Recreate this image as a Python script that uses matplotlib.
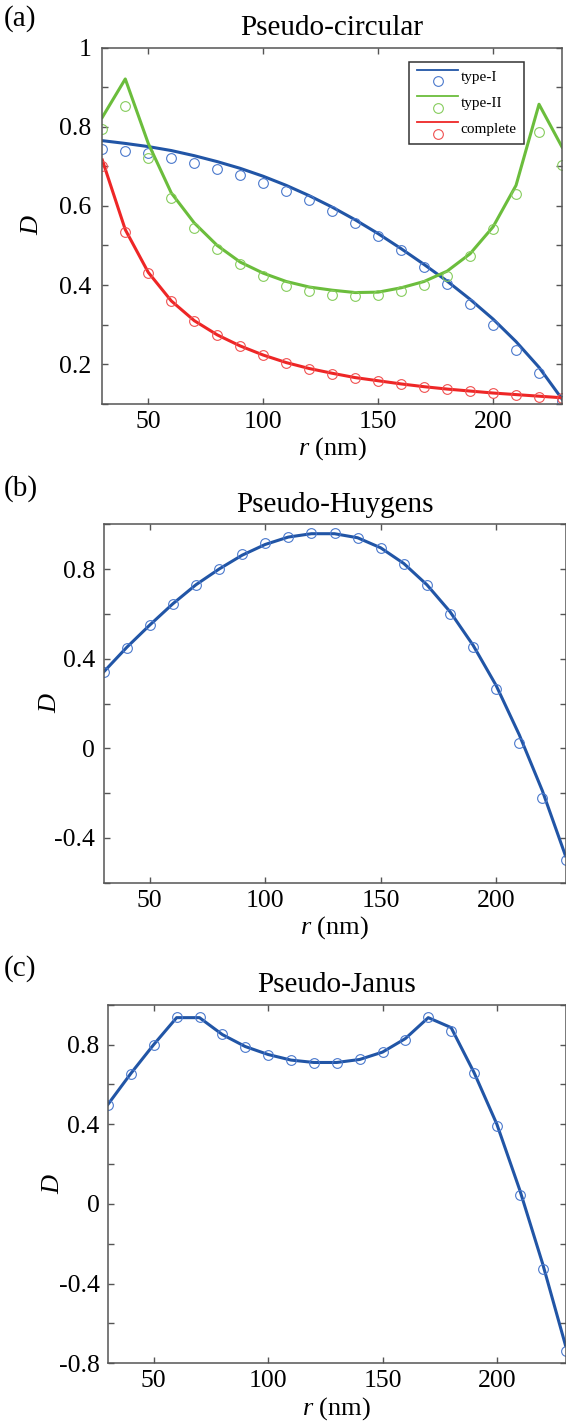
import matplotlib
matplotlib.use('Agg')
import matplotlib.pyplot as plt
from matplotlib.lines import Line2D
from matplotlib.legend_handler import HandlerBase

plt.rcParams['font.family'] = ['Liberation Serif', 'DejaVu Serif']
plt.rcParams['mathtext.fontset'] = 'custom'
plt.rcParams['mathtext.rm'] = 'Liberation Serif'
plt.rcParams['mathtext.it'] = 'Liberation Serif:italic'
plt.rcParams['axes.unicode_minus'] = False

r = [30, 40, 50, 60, 70, 80, 90, 100, 110, 120, 130, 140, 150, 160, 170, 180, 190, 200, 210, 220, 230]

# (a) pseudo-circular: lines = model, circles = simulation
circ_t1_line = [0.765, 0.758, 0.750, 0.740, 0.727, 0.712, 0.695, 0.675, 0.652, 0.626, 0.597,
                0.565, 0.530, 0.492, 0.452, 0.410, 0.364, 0.314, 0.257, 0.192, 0.112]
circ_t1_pts = [0.744, 0.738, 0.733, 0.721, 0.708, 0.694, 0.678, 0.658, 0.637, 0.614, 0.586,
               0.558, 0.523, 0.488, 0.446, 0.403, 0.352, 0.299, 0.237, 0.178, 0.108]
circ_t2_line = [0.824, 0.921, 0.758, 0.633, 0.557, 0.500, 0.458, 0.430, 0.409, 0.395, 0.387,
                0.381, 0.382, 0.393, 0.409, 0.435, 0.479, 0.547, 0.652, 0.857, 0.749]
circ_t2_pts = [0.794, 0.853, 0.720, 0.621, 0.545, 0.492, 0.453, 0.422, 0.397, 0.384, 0.376,
               0.372, 0.375, 0.384, 0.401, 0.424, 0.474, 0.542, 0.629, 0.787, 0.704]
circ_all_line = [0.716, 0.540, 0.432, 0.360, 0.310, 0.274, 0.246, 0.223, 0.204, 0.189, 0.177,
                 0.166, 0.158, 0.150, 0.143, 0.137, 0.132, 0.127, 0.123, 0.119, 0.115]
circ_all_pts = [0.701, 0.533, 0.430, 0.359, 0.309, 0.273, 0.245, 0.222, 0.203, 0.188, 0.176,
                0.165, 0.157, 0.149, 0.142, 0.136, 0.131, 0.127, 0.123, 0.118, 0.114]

# (b) pseudo-Huygens
huy_line = [0.340, 0.450, 0.550, 0.645, 0.730, 0.800, 0.862, 0.910, 0.943, 0.958, 0.958,
            0.940, 0.895, 0.825, 0.730, 0.610, 0.460, 0.280, 0.060, -0.190, -0.480]
huy_pts = [0.342, 0.449, 0.550, 0.644, 0.729, 0.801, 0.867, 0.915, 0.944, 0.962, 0.961,
           0.938, 0.892, 0.822, 0.729, 0.598, 0.452, 0.264, 0.025, -0.224, -0.499]

# (c) pseudo-Janus
jan_line = [0.500, 0.655, 0.800, 0.935, 0.935, 0.850, 0.790, 0.750, 0.722, 0.710, 0.710,
            0.725, 0.762, 0.830, 0.935, 0.885, 0.660, 0.400, 0.070, -0.300, -0.710]
jan_pts = [0.497, 0.653, 0.798, 0.940, 0.940, 0.854, 0.787, 0.746, 0.720, 0.708, 0.708,
           0.726, 0.763, 0.825, 0.940, 0.870, 0.656, 0.389, 0.046, -0.325, -0.740]

BLUE, BLUE_M = '#2155a6', '#4a78cc'
GREEN, GREEN_M = '#6bbd3c', '#86cc5c'
RED, RED_M = '#ee2626', '#f05050'
SPINE = '#555555'


class LineOverMarker(HandlerBase):
    # legend key: line on top, open circle underneath
    def create_artists(self, legend, orig_handle, xdescent, ydescent, width, height, fontsize, trans):
        ln, mk = orig_handle
        x0 = -xdescent
        top = Line2D([x0, x0 + width], [height - ydescent] * 2, color=ln.get_color(), lw=1.3)
        dot = Line2D([x0 + width / 2], [-ydescent], marker='o', ls='none',
                     mfc='none', mec=mk.get_markeredgecolor(), ms=7, mew=0.8)
        top.set_transform(trans)
        dot.set_transform(trans)
        return [top, dot]


def style(ax, ylim, major, minor, ypad):
    ax.set_xlim(30, 230)
    ax.set_ylim(*ylim)
    ax.set_xticks([50, 100, 150, 200])
    ax.set_yticks(major)
    ax.set_yticklabels(['%g' % v for v in major])
    ax.set_yticks(minor, minor=True)
    ax.tick_params(which='both', direction='in', top=True, right=True, length=4,
                   width=1, color=SPINE, labelsize=18.5)
    ax.tick_params(axis='x', pad=5)
    ax.tick_params(axis='y', pad=ypad)
    for s in ax.spines.values():
        s.set_color(SPINE)
        s.set_linewidth(1.1)


def curve(ax, y_line, y_pts, c_line, c_pts):
    ln, = ax.plot(r, y_line, color=c_line, lw=2.2)
    mk, = ax.plot(r, y_pts, 'o', mfc='none', mec=c_pts, ms=7, mew=0.8)
    return ln, mk


fig = plt.figure(figsize=(5.66, 14.24), dpi=100)
W, H = 566, 1424

def box(l, r_, t, b):
    return [l / W, 1 - b / H, (r_ - l) / W, (b - t) / H]

ax1 = fig.add_axes(box(102.3, 562, 47.7, 403.7))
ax2 = fig.add_axes(box(103.5, 565.5, 524.3, 882.7))
ax3 = fig.add_axes(box(108, 565.5, 1004.7, 1363.3))

h1 = curve(ax1, circ_t1_line, circ_t1_pts, BLUE, BLUE_M)
h2 = curve(ax1, circ_t2_line, circ_t2_pts, GREEN, GREEN_M)
h3 = curve(ax1, circ_all_line, circ_all_pts, RED, RED_M)
style(ax1, (0.1, 1.0), [0.2, 0.4, 0.6, 0.8, 1.0], [0.1, 0.3, 0.5, 0.7, 0.9], 8)
leg = ax1.legend([h1, h2, h3], ['type-I', 'type-II', 'complete'],
                 handler_map={tuple: LineOverMarker()},
                 loc='upper right', bbox_to_anchor=(0.9175, 0.96), borderaxespad=0,
                 fontsize=11, handlelength=2.7, handleheight=0.8, labelspacing=0.8,
                 handletextpad=0.15, borderpad=0.5, fancybox=False, framealpha=1,
                 edgecolor='#333333')
leg.get_frame().set_linewidth(1.1)

curve(ax2, huy_line, huy_pts, BLUE, BLUE_M)
style(ax2, (-0.6, 1.0), [-0.4, 0, 0.4, 0.8], [-0.6, -0.2, 0.2, 0.6, 1.0], 6)

curve(ax3, jan_line, jan_pts, BLUE, BLUE_M)
style(ax3, (-0.8, 1.0), [-0.8, -0.4, 0, 0.4, 0.8], [-0.6, -0.2, 0.2, 0.6, 1.0], 6)

titles = ['Pseudo-circular', 'Pseudo-Huygens', 'Pseudo-Janus']
tags = ['(a)', '(b)', '(c)']
tag_top = [5, 475, 955]
ylab_x = [-0.128, -0.092, -0.096]
for ax, t, tag, yt, yx in zip([ax1, ax2, ax3], titles, tags, tag_top, ylab_x):
    ax.set_title(t, fontsize=21, pad=9)
    ax.set_ylabel('D', fontsize=19, fontstyle='italic')
    ax.yaxis.set_label_coords(yx, 0.5)
    ax.set_xlabel('$r$ (nm)', fontsize=19, labelpad=2)
    fig.text(4 / W, 1 - yt / H, tag, fontsize=21, va='top', ha='left')

fig.savefig('out.png', dpi=100)
